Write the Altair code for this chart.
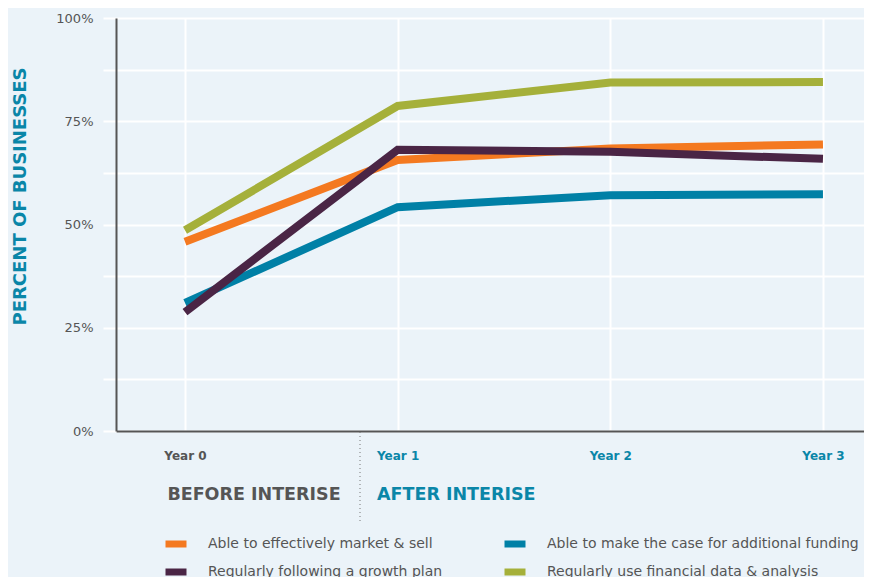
import altair as alt
import pandas as pd

years = [0, 1, 2, 3]
series_names = [
    "Able to effectively market & sell",
    "Able to make the case for additional funding",
    "Regularly following a growth plan",
    "Regularly use financial data & analysis",
]
market_sell = [45.8, 65.6, 68.4, 69.4]
additional_funding = [31.0, 54.2, 57.1, 57.3]
growth_plan = [28.8, 68.1, 67.6, 65.9]
financial_data = [48.6, 78.7, 84.4, 84.5]
series_colors = ["#F47920", "#0080A6", "#4A2545", "#A5B03A"]
y_ticks = [0, 12.5, 25, 37.5, 50, 62.5, 75, 87.5, 100]

rows = []
for name, vals in zip(series_names, [market_sell, additional_funding, growth_plan, financial_data]):
    for yr, v in zip(years, vals):
        rows.append({"year": yr, "value": v, "series": name})
df = pd.DataFrame(rows)

# legend is filled column by column: column 1 = market, growth; column 2 = funding, financial
legend_order = [series_names[0], series_names[2], series_names[1], series_names[3]]
legend_colors = [series_colors[0], series_colors[2], series_colors[1], series_colors[3]]

FONT = "DejaVu Sans"
TEAL = "#0A86A8"
GRAY = "#555555"

lines = alt.Chart(df).mark_line(strokeWidth=8, strokeCap="butt").encode(
    x=alt.X(
        "year:Q",
        scale=alt.Scale(domain=[-0.3245, 3.193], nice=False, zero=False),
        axis=alt.Axis(
            values=years,
            labelExpr="'Year ' + datum.value",
            title=None,
            grid=True,
            gridColor="white",
            gridWidth=2,
            ticks=False,
            domainColor=GRAY,
            domainWidth=2,
            labelPadding=19,
            labelFontSize=12,
            labelFontWeight="bold",
            labelFont=FONT,
            labelColor=alt.condition("datum.value == 0", alt.value(GRAY), alt.value(TEAL)),
        ),
    ),
    y=alt.Y(
        "value:Q",
        scale=alt.Scale(domain=[0, 100], nice=False),
        axis=alt.Axis(
            values=y_ticks,
            labelExpr="datum.value % 25 == 0 ? datum.value + '%' : ''",
            grid=True,
            gridColor="white",
            gridWidth=2,
            ticks=True,
            tickColor="white",
            tickWidth=2,
            tickSize=13,
            domainColor=GRAY,
            domainWidth=2,
            labelPadding=10,
            labelFontSize=13,
            labelColor=GRAY,
            labelFont=FONT,
            title="PERCENT OF BUSINESSES",
            titleColor=TEAL,
            titleFont=FONT,
            titleFontSize=18,
            titleFontWeight="bold",
            titleAngle=-90,
            titleX=-96,
            titleY=178,
            titleAlign="center",
            titleBaseline="middle",
        ),
    ),
    color=alt.Color(
        "series:N",
        scale=alt.Scale(domain=legend_order, range=legend_colors),
        legend=alt.Legend(
            orient="none",
            legendX=46,
            legendY=512,
            columns=2,
            columnPadding=47,
            rowPadding=0,
            symbolType="stroke",
            symbolSize=441,
            symbolStrokeWidth=7,
            labelFontSize=14,
            labelColor=GRAY,
            labelFont=FONT,
            labelOffset=18,
            labelLimit=400,
            title=None,
            padding=0,
        ),
    ),
)

one = pd.DataFrame({"k": [0]})

divider = alt.Chart(one).mark_rule(color="#777777", strokeWidth=1, strokeDash=[1, 3]).encode(
    x=alt.value(244), y=alt.value(414), y2=alt.value(503)
)

before_txt = alt.Chart(one).mark_text(
    text="BEFORE INTERISE", font=FONT, fontSize=17.5, fontWeight="bold", color=GRAY,
    align="center", baseline="middle",
).encode(x=alt.value(138), y=alt.value(477))

after_txt = alt.Chart(one).mark_text(
    text="AFTER INTERISE", font=FONT, fontSize=17.5, fontWeight="bold", color=TEAL,
    align="left", baseline="middle",
).encode(x=alt.value(261), y=alt.value(477))

chart = alt.layer(lines, divider, before_txt, after_txt).properties(
    width=748,
    height=413,
    autosize=alt.AutoSizeParams(type="none"),
    padding={"left": 108, "top": 10, "right": 0, "bottom": 150},
    background="#EBF3F9",
).configure_view(strokeWidth=0)

chart.save("out.html", embed_options={"renderer": "svg", "actions": False})
